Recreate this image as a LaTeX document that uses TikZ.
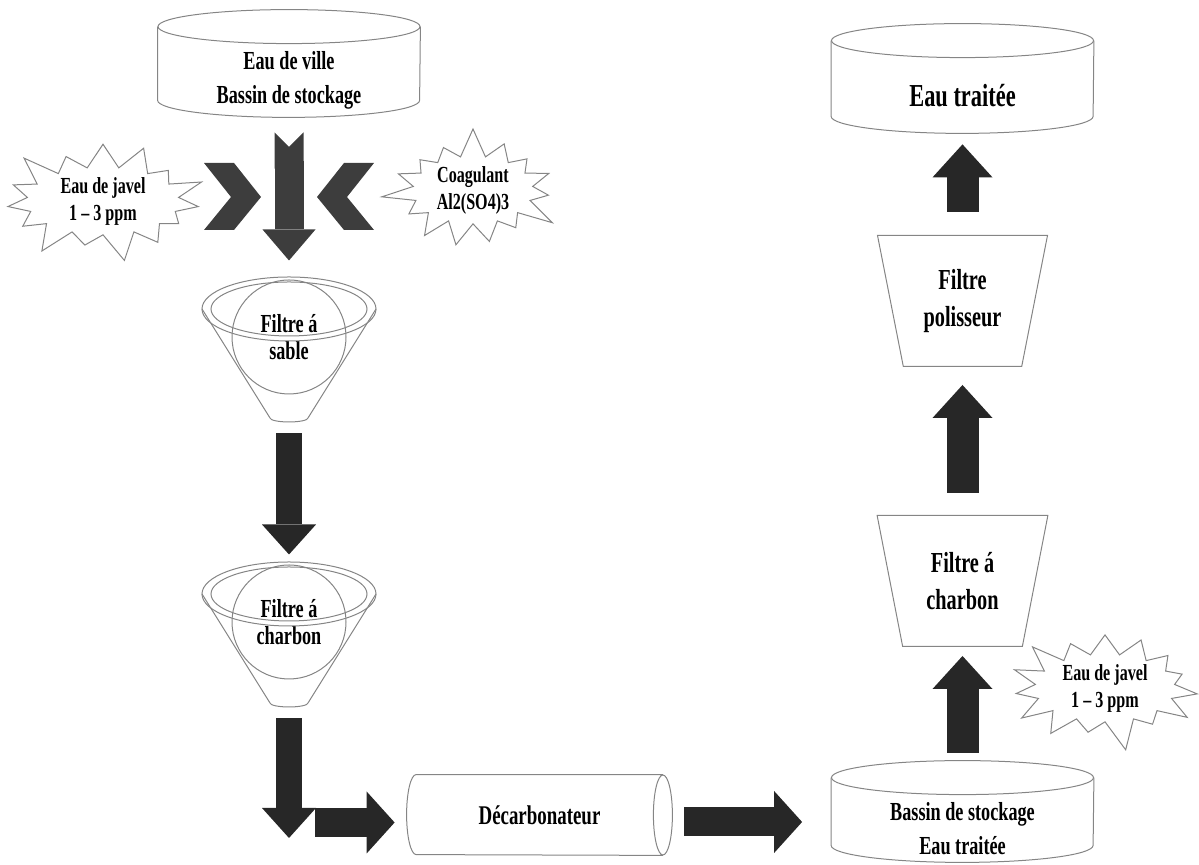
\documentclass[tikz,border=0pt]{standalone}
\usepackage{fontspec}
\setmainfont{Liberation Serif}[FakeStretch=0.7]
\usetikzlibrary{arrows.meta,positioning,calc,shapes.geometric,shapes.symbols}
\definecolor{outline}{HTML}{858585}
\definecolor{flowdark}{HTML}{272727}
\definecolor{flowgray}{HTML}{3D3D3D}
% open tank drawn round a text box
\newcommand{\tank}[1]{%
  \draw[rim] ([yshift=8.5pt]#1.north) ellipse [x radius=65.5pt, y radius=8.5pt];
  \draw[rim] ([yshift=8.5pt]#1.north west) -- ([yshift=8.5pt]#1.south west)
    arc [start angle=180, end angle=360, x radius=65.5pt, y radius=8.5pt] -- ([yshift=8.5pt]#1.north east);}
% funnel drawn round a round filter node
\newcommand{\funnel}[1]{%
  \draw[rim] ([yshift=14pt]#1.center) ellipse [x radius=43.5pt, y radius=16pt]
             ([yshift=14pt]#1.center) ellipse [x radius=39pt, y radius=13.5pt];
  \draw[rim] ([shift={(-43.5pt,14pt)}]#1.center) -- ([shift={(-9.5pt,-40.5pt)}]#1.center)
    arc [start angle=180, end angle=360, x radius=9.5pt, y radius=2pt] -- ([shift={(43.5pt,14pt)}]#1.center);}

\begin{document}
\begin{tikzpicture}[x=0.5pt, y=0.5pt, every node/.style={align=center, inner sep=0pt},
  rim/.style={draw=outline, line width=0.5pt},
  tankbox/.style={minimum width=131pt, font=\bfseries\fontsize{13}{17}\selectfont},
  filter/.style={circle, rim, minimum size=57pt, font=\bfseries\fontsize{13}{13.5}\selectfont},
  trap/.style={trapezium, rim, shape border rotate=180, trapezium left angle=75, trapezium right angle=75,
    trapezium stretches=true, minimum width=85.5pt, minimum height=65.5pt, font=\bfseries\fontsize{14.5}{18.5}\selectfont},
  burst/.style={starburst, rim, starburst points=15, starburst point height=16pt, font=\bfseries\fontsize{11.5}{13.5}\selectfont},
  feed/.style={draw=flowgray, line width=14.5pt, {Triangle Cap[reversed]}-{Triangle[width=26.5pt, length=15.5pt, line width=0pt]}},
  flowdown/.style={draw=flowdark, line width=13pt, -{Triangle[width=27pt, length=15pt, line width=0pt]}},
  flowright/.style={draw=flowdark, line width=14.5pt, -{Triangle[width=31pt, length=14pt, line width=0pt]}},
  flowup/.style={draw=flowdark, line width=16pt, -{Triangle[width=30pt, length=16.5pt, line width=0pt]}}]
  \useasboundingbox (0,0) rectangle (1199,865);

  % Left column
  \node[tankbox, minimum height=36.5pt] (src) at (289,784.5) {Eau de ville\\Bassin de stockage};
  \coordinate (mix) at (289,668);
  \node[burst, random starburst=100, minimum width=108pt, minimum height=56pt] (javel) at (103,664) {Eau de javel\\1 -- 3 ppm};
  \node[burst, random starburst=27, minimum width=92pt, minimum height=53pt] (coag) at (473,675) {Coagulant\\Al2(SO4)3};
  \node[filter] (sandf) at (289,528) {Filtre á\\sable};
  \node[filter] (carbf) at (289,243) {Filtre á\\charbon};
  \coordinate (elbow) at (289,27);

  % Bottom
  \node[minimum width=123pt, minimum height=40pt, font=\bfseries\fontsize{13.5}{16}\selectfont] (dec) at (539.5,50) {Décarbonateur};

  % Right column
  \node[tankbox, minimum height=33.5pt] (store) at (962.5,36.5) {Bassin de stockage\\Eau traitée};
  \node[burst, random starburst=61, minimum width=102pt, minimum height=53pt] (javel2) at (1105,177) {Eau de javel\\1 -- 3 ppm};
  \node[trap] (carbr) at (962.5,284) {Filtre á\\charbon};
  \node[trap] (polish) at (962.5,564) {Filtre\\polisseur};
  \node[tankbox, minimum height=37.5pt, font=\bfseries\fontsize{16}{18}\selectfont] (out) at (962.5,769.5) {Eau traitée};

  % Outlines
  \tank{src}
  \tank{store}
  \tank{out}
  \funnel{sandf}
  \funnel{carbf}
  \draw[rim] (dec.north west) arc [start angle=90, end angle=270, x radius=4.75pt, y radius=20pt]
    -- (dec.south east) (dec.north west) -- (dec.north east)
    (dec.east) ellipse [x radius=4.75pt, y radius=20pt];

  % Dosing chevrons
  \fill[flowgray] ([shift={(-85,34)}]mix) -- ++(30,0) -- ++(27,-34) -- ++(-27,-33) -- ++(-30,0) -- ++(27,33) -- cycle;
  \fill[flowgray] ([shift={(85,34)}]mix) -- ++(-30,0) -- ++(-27,-34) -- ++(27,-33) -- ++(30,0) -- ++(-27,33) -- cycle;

  % Flow
  \draw[feed] ([yshift=-7.5pt]src.south) -- ([yshift=9.5pt]sandf.north);
  \draw[flowdown] ([yshift=-19.5pt]sandf.south) -- ([yshift=5pt]carbf.north);
  \draw[flowdown] ([yshift=-19.5pt]carbf.south) -- (elbow);
  \draw[flowright] ([shift={(13pt,7.75pt)}]elbow) -- ([shift={(-10.75pt,-3.75pt)}]dec.west);
  \draw[flowright] ([shift={(10.75pt,-3.5pt)}]dec.east) -- ([shift={(-14.5pt,3.25pt)}]store.west);
  \draw[flowup] ([yshift=21pt]store.north) -- ([yshift=-37.5pt]carbr.center);
  \draw[flowup] ([yshift=44pt]carbr.center) -- ([yshift=-42pt]polish.center);
  \draw[flowup] ([yshift=44.5pt]polish.center) -- ([yshift=-5.5pt]out.south);
\end{tikzpicture}
\end{document}
